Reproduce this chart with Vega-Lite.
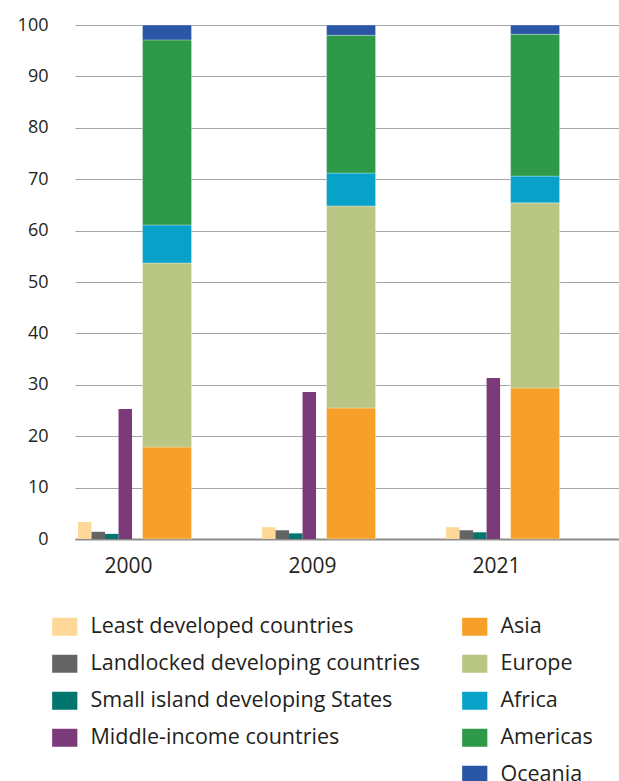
{
  "$schema": "https://vega.github.io/schema/vega-lite/v6.json",
  "width": 544,
  "height": 514,
  "autosize": {"type": "none"},
  "padding": {"left": 75, "top": 25, "right": 0, "bottom": 242},
  "background": "white",
  "config": {
    "view": {"stroke": null},
    "font": "Open Sans",
    "axisY": {"grid": true, "gridColor": "#a5a5a5", "gridWidth": 1.2, "domain": false, "ticks": false, "labelFontSize": 18, "labelPadding": 27, "labelColor": "#231f20", "tickCount": 10},
    "axisX": {"grid": false, "domainColor": "#8c8c8c", "domainWidth": 2.2, "ticks": false, "labelFontSize": 21, "labelPadding": 16, "labelAngle": 0, "labelOffset": -6, "labelColor": "#231f20"},
    "legend": {"padding": 0, "labelFontSize": 21.5, "labelColor": "#231f20", "symbolType": "M-1.4,-1H1.4V1H-1.4Z", "symbolSize": 324, "symbolStrokeWidth": 0, "symbolOpacity": 1, "labelOffset": 15, "rowPadding": 14, "direction": "vertical", "orient": "none", "labelLimit": 400}
  },
  "datasets": {
    "groups": [
      {"year": "2000", "group": "Least developed countries", "value": 3.3},
      {"year": "2000", "group": "Landlocked developing countries", "value": 1.4},
      {"year": "2000", "group": "Small island developing States", "value": 1.0},
      {"year": "2000", "group": "Middle-income countries", "value": 25.3},
      {"year": "2009", "group": "Least developed countries", "value": 2.3},
      {"year": "2009", "group": "Landlocked developing countries", "value": 1.7},
      {"year": "2009", "group": "Small island developing States", "value": 1.1},
      {"year": "2009", "group": "Middle-income countries", "value": 28.6},
      {"year": "2021", "group": "Least developed countries", "value": 2.3},
      {"year": "2021", "group": "Landlocked developing countries", "value": 1.7},
      {"year": "2021", "group": "Small island developing States", "value": 1.3},
      {"year": "2021", "group": "Middle-income countries", "value": 31.3}
    ],
    "regions": [
      {"year": "2000", "region": "Asia", "value": 17.9},
      {"year": "2000", "region": "Europe", "value": 35.8},
      {"year": "2000", "region": "Africa", "value": 7.4},
      {"year": "2000", "region": "Americas", "value": 36.0},
      {"year": "2000", "region": "Oceania", "value": 2.9},
      {"year": "2009", "region": "Asia", "value": 25.5},
      {"year": "2009", "region": "Europe", "value": 39.3},
      {"year": "2009", "region": "Africa", "value": 6.4},
      {"year": "2009", "region": "Americas", "value": 26.8},
      {"year": "2009", "region": "Oceania", "value": 2.0},
      {"year": "2021", "region": "Asia", "value": 29.4},
      {"year": "2021", "region": "Europe", "value": 36.0},
      {"year": "2021", "region": "Africa", "value": 5.2},
      {"year": "2021", "region": "Americas", "value": 27.6},
      {"year": "2021", "region": "Oceania", "value": 1.8}
    ]
  },
  "encoding": {
    "x": {"field": "year", "type": "nominal", "sort": ["2000", "2009", "2021"], "title": null,
      "scale": {"paddingInner": 0.386, "paddingOuter": 0.171, "align": 0.048}}
  },
  "layer": [
    {
      "data": {"name": "groups"},
      "mark": {"type": "bar"},
      "encoding": {
        "xOffset": {"field": "group", "type": "nominal",
          "sort": ["Least developed countries", "Landlocked developing countries", "Small island developing States", "Middle-income countries"],
          "scale": {"range": [0, 54], "paddingInner": 0, "paddingOuter": 0}},
        "y": {"field": "value", "type": "quantitative", "title": null, "scale": {"domain": [0, 100], "nice": false}},
        "color": {"field": "group", "type": "nominal",
          "sort": ["Least developed countries", "Landlocked developing countries", "Small island developing States", "Middle-income countries"],
          "scale": {"domain": ["Least developed countries", "Landlocked developing countries", "Small island developing States", "Middle-income countries"],
                    "range": ["#fed899", "#646464", "#00766f", "#7b3a7a"]},
          "legend": {"title": null, "legendX": -21, "legendY": 591}}
      }
    },
    {
      "data": {"name": "regions"},
      "transform": [
        {"calculate": "indexof(['Asia', 'Europe', 'Africa', 'Americas', 'Oceania'], datum.region)", "as": "stackOrder"}
      ],
      "mark": {"type": "bar", "width": 49, "xOffset": 32.5, "stroke": "white", "strokeWidth": 0.5, "strokeOpacity": 0.6},
      "encoding": {
        "y": {"field": "value", "type": "quantitative", "title": null, "stack": "zero", "scale": {"domain": [0, 100], "nice": false}},
        "order": {"field": "stackOrder", "type": "quantitative", "sort": "ascending"},
        "color": {"field": "region", "type": "nominal",
          "sort": ["Asia", "Europe", "Africa", "Americas", "Oceania"],
          "scale": {"domain": ["Asia", "Europe", "Africa", "Americas", "Oceania"],
                    "range": ["#f6a02a", "#bac683", "#08a1c8", "#2e9949", "#2a57a5"]},
          "legend": {"title": null, "legendX": 389, "legendY": 591}}
      }
    }
  ],
  "resolve": {"scale": {"color": "independent"}, "legend": {"color": "independent"}}
}
